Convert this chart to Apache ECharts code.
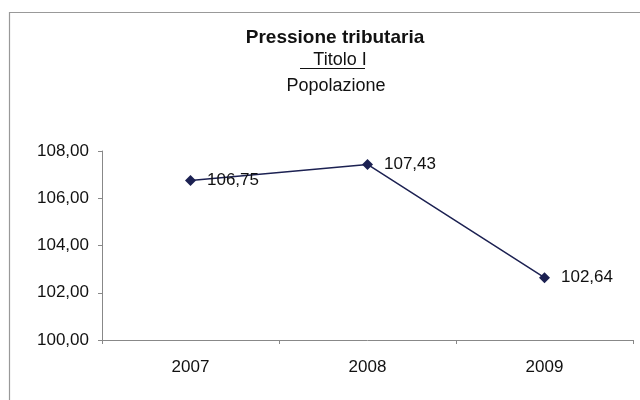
<!DOCTYPE html>
<html>
<head>
<meta charset="utf-8">
<script src="https://cdn.jsdelivr.net/npm/echarts@6/dist/echarts.min.js"></script>
<style>
  html, body { margin: 0; padding: 0; background: #fff; }
  #chart { width: 640px; height: 400px; }
</style>
</head>
<body>
<div id="chart"></div>
<script>
const years = ['2007', '2008', '2009']
const pressione = [106.75, 107.43, 102.64]
const yMin = 100
const yMax = 108
const yStep = 2

const fmt = v => v.toFixed(2).replace('.', ',')

const chart = echarts.init(document.getElementById('chart'))
chart.setOption({
  backgroundColor: '#fff',
  textStyle: { fontFamily: 'Liberation Sans, Arial, sans-serif' },
  title: [
    {
      text: 'Pressione tributaria',
      left: 330,
      textAlign: 'center',
      top: 23,
      textStyle: { fontSize: 19, fontWeight: 'bold', color: '#111' },
    },
    {
      text: 'Titolo I',
      left: 335,
      textAlign: 'center',
      top: 46,
      textStyle: { fontSize: 18, fontWeight: 'normal', color: '#111' },
    },
    {
      text: 'Popolazione',
      left: 331,
      textAlign: 'center',
      top: 72,
      textStyle: { fontSize: 18, fontWeight: 'normal', color: '#111' },
    },
  ],
  graphic: [
    {
      type: 'rect',
      shape: { x: 9.5, y: 12.5, width: 700, height: 500 },
      style: { fill: 'none', stroke: '#999', lineWidth: 1.2 },
      silent: true,
    },
    {
      type: 'line',
      shape: { x1: 300, y1: 68.5, x2: 365, y2: 68.5 },
      style: { stroke: '#111', lineWidth: 1.2 },
      silent: true,
    },
  ],
  grid: {
    left: 102,
    right: 7,
    top: 151,
    bottom: 60,
  },
  xAxis: {
    type: 'category',
    data: years,
    boundaryGap: true,
    axisLine: { lineStyle: { color: '#888', width: 1 } },
    axisTick: { show: true, length: 4, lineStyle: { color: '#888' } },
    axisLabel: { color: '#111', fontSize: 17, margin: 19 },
  },
  yAxis: {
    type: 'value',
    min: yMin,
    max: yMax,
    interval: yStep,
    axisLine: { show: true, lineStyle: { color: '#888', width: 1 } },
    axisTick: { show: true, length: 4, lineStyle: { color: '#888' } },
    splitLine: { show: false },
    axisLabel: { color: '#111', fontSize: 17, margin: 13, formatter: fmt },
  },
  series: [{
    type: 'line',
    data: pressione,
    symbol: 'diamond',
    symbolSize: 11,
    lineStyle: { color: '#1c2152', width: 1.5 },
    itemStyle: { color: '#1c2152' },
    label: {
      show: true,
      position: 'right',
      distance: 11,
      color: '#111',
      fontSize: 17,
      formatter: p => fmt(p.value),
    },
  }],
})
</script>
</body>
</html>
